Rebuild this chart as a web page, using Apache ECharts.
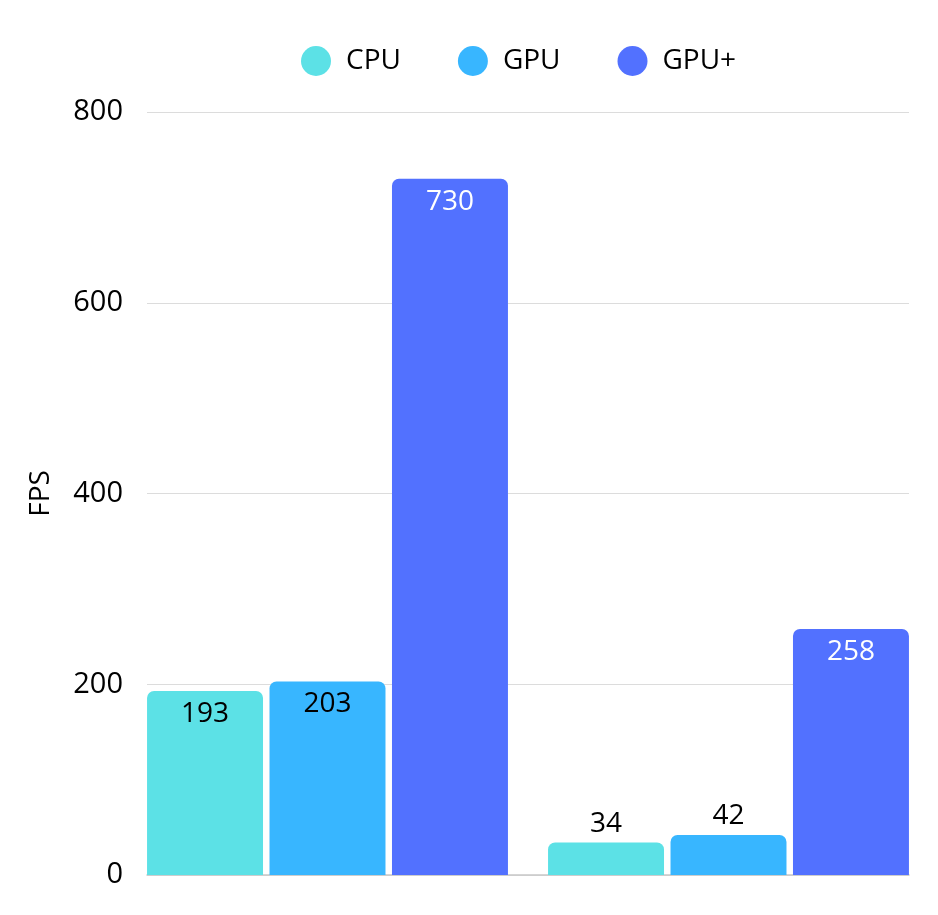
<!DOCTYPE html>
<html><head><meta charset="utf-8">
<script src="https://cdn.jsdelivr.net/npm/echarts@6/dist/echarts.min.js"></script>
<style>html,body{margin:0;padding:0;background:#fff}#c{width:938px;height:915px}</style>
</head><body><div id="c"></div>
<script>
const categories = ['A', 'B'];
const seriesNames = ['CPU', 'GPU', 'GPU+'];
const cpuValues = [193, 34];
const gpuValues = [203, 42];
const gpuPlusValues = [730, 258];
const yTicks = [0, 200, 400, 600, 800];

const colors = ['#5ce1e6', '#38b6ff', '#5271ff'];
const labelColors = ['#000', '#000', '#fff'];
const FONT = '"Open Sans", "Noto Sans", sans-serif';
const allValues = [cpuValues, gpuValues, gpuPlusValues];

const chart = echarts.init(document.getElementById('c'));
const series = seriesNames.map((name, i) => ({
  name, type: 'bar', xAxisIndex: 1, yAxisIndex: 1,
  barGap: '5.6%', barCategoryGap: '10%',
  itemStyle: { color: colors[i], borderRadius: [7, 7, 0, 0] },
  data: allValues[i].map(v => {
    const small = v < 100;
    return {
      value: v,
      label: {
        show: true,
        position: small ? 'top' : 'insideTop',
        distance: small ? 5 : 9,
        color: small ? '#000' : labelColors[i],
        fontSize: 28, fontFamily: FONT
      }
    };
  })
}));

chart.setOption({
  animation: false,
  textStyle: { fontFamily: FONT },
  legend: {
    top: 41, left: 296,
    itemWidth: 30, itemHeight: 30, itemGap: 57, icon: 'circle',
    textStyle: { fontSize: 28, color: '#000', fontFamily: FONT, padding: [0, 0, 0, 10] },
    data: seriesNames
  },
  grid: [
    { left: 147, right: 29, top: 112, bottom: 40 },
    { left: 127, right: 9, top: 112, bottom: 40 }
  ],
  xAxis: [
    { gridIndex: 0, type: 'category', data: categories,
      axisLine: { lineStyle: { color: '#c8c8c8', width: 1.5 } },
      axisTick: { show: false }, axisLabel: { show: false } },
    { gridIndex: 1, type: 'category', data: categories,
      axisLine: { show: false }, axisTick: { show: false }, axisLabel: { show: false } }
  ],
  yAxis: [
    { gridIndex: 0, type: 'value', min: yTicks[0], max: yTicks[yTicks.length - 1], interval: 200,
      name: 'FPS', nameLocation: 'middle', nameGap: 92,
      nameTextStyle: { fontSize: 28, color: '#000', fontFamily: FONT },
      axisLine: { show: false }, axisTick: { show: false },
      axisLabel: { fontSize: 29, color: '#000', margin: 24, fontFamily: FONT, padding: [6, 0, 0, 0] },
      splitLine: { lineStyle: { color: '#dcdcdc', width: 1 } } },
    { gridIndex: 1, type: 'value', min: yTicks[0], max: yTicks[yTicks.length - 1], interval: 200,
      show: false, splitLine: { show: false } }
  ],
  series
});
</script></body></html>
